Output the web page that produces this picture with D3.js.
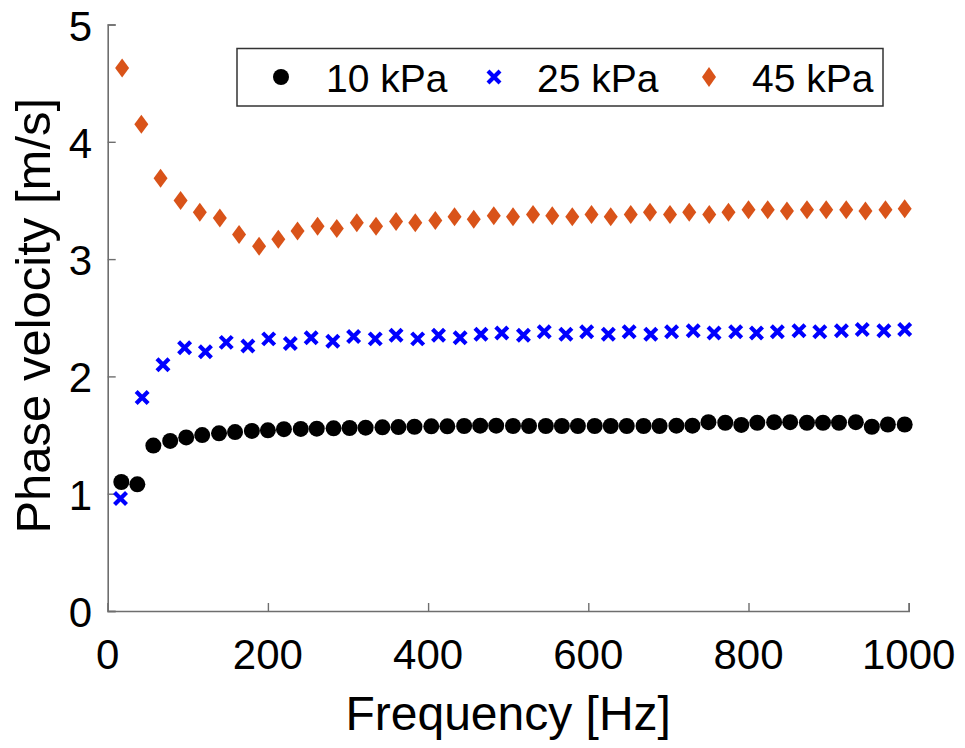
<!DOCTYPE html>
<html>
<head>
<meta charset="utf-8">
<script src="https://cdn.jsdelivr.net/npm/d3@7"></script>
<style>
  html, body { margin: 0; padding: 0; background: #fff; }
  svg { display: block; font-family: "Liberation Sans", Arial, sans-serif; }
</style>
</head>
<body>
<svg id="chart" width="965" height="748"></svg>
<script>
// Phase velocity dispersion for three stiffness levels

const freq10 = [17, 37, 57, 78, 98, 118, 139, 159, 180, 200, 220, 241, 261, 282, 302, 322, 343, 363, 383, 404,
  424, 445, 465, 485, 506, 526, 547, 567, 587, 608, 628, 648, 669, 689, 710, 730, 750, 771, 791, 811,
  832, 852, 873, 893, 913, 934, 954, 974, 995];
const vel10 = [1.10, 1.08, 1.41, 1.45, 1.48, 1.50, 1.515, 1.525, 1.535, 1.54, 1.55, 1.552, 1.554, 1.557, 1.56, 1.563, 1.566, 1.568, 1.571, 1.574,
  1.574, 1.577, 1.58, 1.58, 1.577, 1.577, 1.577, 1.577, 1.577, 1.577, 1.577, 1.577, 1.577, 1.577, 1.58, 1.58, 1.61, 1.605, 1.586, 1.605,
  1.61, 1.61, 1.605, 1.605, 1.605, 1.61, 1.571, 1.59, 1.59];

const freq25 = [16, 43, 69, 96, 122, 148, 175, 201, 228, 254, 281, 307, 334, 360, 387, 413, 440, 466, 492, 519,
  545, 572, 598, 625, 651, 678, 704, 731, 757, 784, 810, 836, 863, 889, 916, 942, 969, 995];
const vel25 = [0.96, 1.82, 2.10, 2.245, 2.21, 2.29, 2.26, 2.32, 2.28, 2.33, 2.30, 2.34, 2.32, 2.35, 2.32, 2.35, 2.33, 2.36, 2.37, 2.35,
  2.38, 2.36, 2.38, 2.36, 2.38, 2.36, 2.38, 2.39, 2.37, 2.38, 2.37, 2.38, 2.39, 2.38, 2.39, 2.40, 2.39, 2.40];

const freq45 = [18, 42, 66, 91, 115, 140, 164, 189, 213, 237, 262, 286, 311, 335, 360, 384, 409, 433, 457, 482,
  506, 531, 555, 580, 604, 628, 653, 677, 702, 726, 751, 775, 800, 824, 848, 873, 897, 922, 946, 971, 995];
const vel45 = [4.63, 4.15, 3.69, 3.50, 3.40, 3.35, 3.21, 3.11, 3.17, 3.24, 3.28, 3.26, 3.31, 3.28, 3.32, 3.31, 3.33, 3.36, 3.34, 3.37,
  3.36, 3.38, 3.37, 3.36, 3.38, 3.36, 3.38, 3.40, 3.38, 3.40, 3.38, 3.40, 3.42, 3.42, 3.41, 3.42, 3.42, 3.42, 3.41, 3.42, 3.43];

const seriesNames = ["10 kPa", "25 kPa", "45 kPa"];
const seriesColors = ["#000000", "#0000ff", "#d95319"];
const xTicks = [0, 200, 400, 600, 800, 1000];
const yTicks = [0, 1, 2, 3, 4, 5];

const svg = d3.select("#chart");
const plotLeft = 107.7, plotRight = 908.7, plotTop = 24.5, plotBottom = 611;

const x = d3.scaleLinear().domain([0, 1000]).range([plotLeft, plotRight]);
const y = d3.scaleLinear().domain([0, 5]).range([plotBottom, plotTop]);

const axisColor = "#6e6e6e";

// Axes: left and bottom spines with inward ticks
const xAxis = svg.append("g").attr("transform", `translate(0,${plotBottom})`)
  .call(d3.axisBottom(x).tickValues(xTicks).tickSize(-8).tickFormat(""));
const yAxis = svg.append("g").attr("transform", `translate(${plotLeft},0)`)
  .call(d3.axisLeft(y).tickValues(yTicks).tickSize(-8).tickFormat(""));
[xAxis, yAxis].forEach(g => {
  g.select(".domain").attr("stroke", axisColor).attr("stroke-width", 1.6);
  g.selectAll(".tick line").attr("stroke", axisColor).attr("stroke-width", 1.4);
});

// Tick labels
svg.append("g").selectAll("text").data(xTicks).join("text")
  .attr("x", d => x(d)).attr("y", 669)
  .attr("text-anchor", "middle").attr("font-size", 42).attr("fill", "#000")
  .text(d => d);
svg.append("g").selectAll("text").data(yTicks).join("text")
  .attr("x", 92).attr("y", d => y(d) + 16)
  .attr("text-anchor", "end").attr("font-size", 42).attr("fill", "#000")
  .text(d => d);

// Axis titles
svg.append("text").attr("x", (plotLeft + plotRight) / 2).attr("y", 730)
  .attr("text-anchor", "middle").attr("font-size", 48).text("Frequency [Hz]");
svg.append("text").attr("transform", `translate(50,${(plotTop + plotBottom) / 2 - 2}) rotate(-90)`)
  .attr("text-anchor", "middle").attr("font-size", 49).text("Phase velocity [m/s]");

// Marker shapes
function circleMark(g, color, r) {
  g.append("circle").attr("r", r).attr("fill", color);
}
function crossMark(g, color, s) {
  g.append("path").attr("d", `M${-s},${-s}L${s},${s}M${-s},${s}L${s},${-s}`)
    .attr("stroke", color).attr("stroke-width", 4.2).attr("fill", "none");
}
function diamondMark(g, color, w, h) {
  g.append("path").attr("d", `M0,${-h}L${w},0L0,${h}L${-w},0Z`).attr("fill", color);
}

const plot = svg.append("g");

// 45 kPa
plot.append("g").selectAll("g").data(d3.zip(freq45, vel45)).join("g")
  .attr("transform", d => `translate(${x(d[0])},${y(d[1])})`)
  .each(function () { diamondMark(d3.select(this), seriesColors[2], 7, 9.5); });

// 25 kPa
plot.append("g").selectAll("g").data(d3.zip(freq25, vel25)).join("g")
  .attr("transform", d => `translate(${x(d[0])},${y(d[1])})`)
  .each(function () { crossMark(d3.select(this), seriesColors[1], 6); });

// 10 kPa
plot.append("g").selectAll("g").data(d3.zip(freq10, vel10)).join("g")
  .attr("transform", d => `translate(${x(d[0])},${y(d[1])})`)
  .each(function () { circleMark(d3.select(this), seriesColors[0], 8); });

// Legend
const legend = svg.append("g");
legend.append("rect").attr("x", 237).attr("y", 48.5).attr("width", 646).attr("height", 57.5)
  .attr("fill", "#fff").attr("stroke", "#333").attr("stroke-width", 1.5);
const legendMarkX = [281, 494, 709];
const legendTextX = [326, 537, 752];
seriesNames.forEach((name, i) => {
  const m = legend.append("g").attr("transform", `translate(${legendMarkX[i]},77)`);
  if (i === 0) circleMark(m, seriesColors[0], 8);
  else if (i === 1) crossMark(m, seriesColors[1], 6);
  else diamondMark(m, seriesColors[2], 7, 10);
  legend.append("text").attr("x", legendTextX[i]).attr("y", 92)
    .attr("font-size", 39).attr("fill", "#000").text(name);
});
</script>
</body>
</html>
